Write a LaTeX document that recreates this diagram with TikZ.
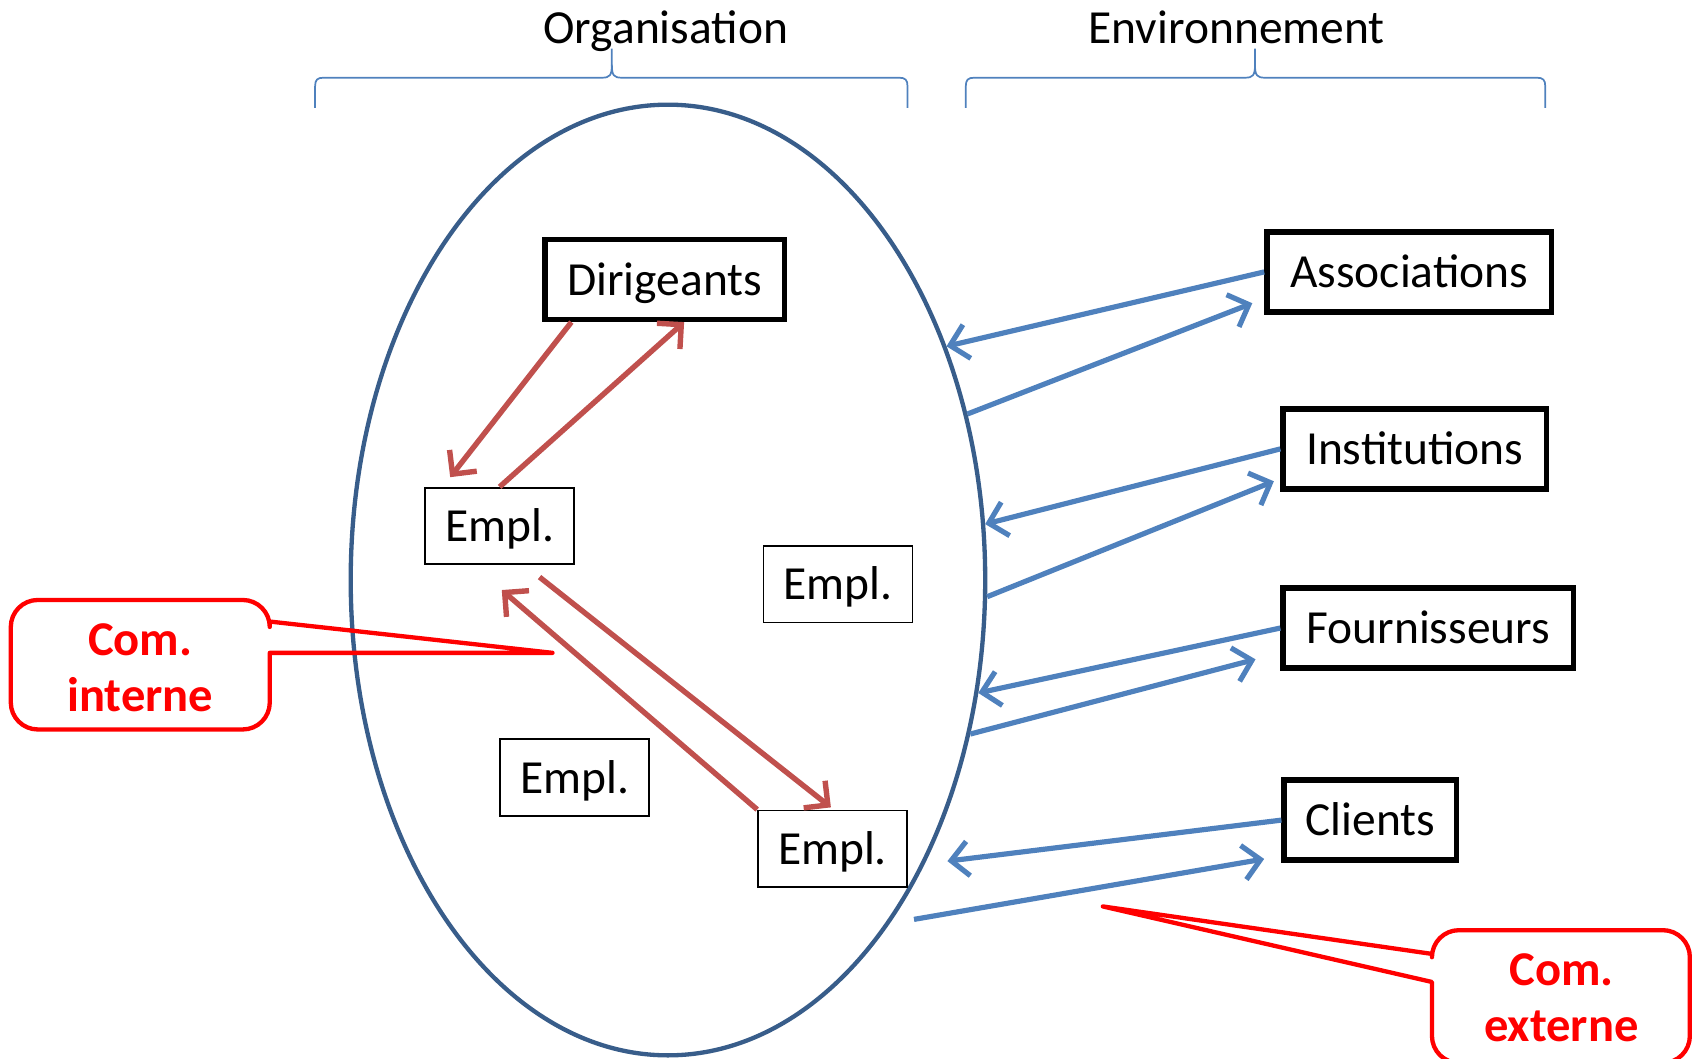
\documentclass[tikz,border=0pt]{standalone}
\usepackage{fontspec}
\setmainfont{Carlito}
\usetikzlibrary{arrows.meta,calc,shapes.geometric}
\definecolor{ellblue}{HTML}{385D8A}
\definecolor{lblue}{HTML}{4F81BD}
\definecolor{dred}{HTML}{C0504D}
\definecolor{pred}{HTML}{FF0000}
\begin{document}
\begin{tikzpicture}[x=1pt,y=1pt,
  every node/.style={font=\fontsize{44}{50}\selectfont},
  bigbox/.style={draw,line width=5pt,minimum height=74pt,inner sep=0pt,text depth=4pt,text height=33pt},
  emplbox/.style={draw,line width=1.6pt,minimum width=138pt,minimum height=71pt,inner sep=0pt,text depth=4pt,text height=33pt},
  redarr/.style={draw=dred,line width=5pt,-{Straight Barb[length=16pt,width=32pt]}},
  bluearr/.style={draw=lblue,line width=4.8pt,-{Straight Barb[length=16pt,width=32pt]}},
  bracestyle/.style={draw=lblue,line width=1.6pt},
  callout/.style={draw=pred,line width=4pt,line join=round},
  callouttext/.style={text=pred,font=\fontsize{45}{50}\selectfont\bfseries,anchor=base}
]
\useasboundingbox (0,0) rectangle (1568,-981);

% titles and braces
\node[anchor=base] (torg) at (617,-40) {Organisation};
\node[anchor=base] (tenv) at (1146,-40) {Environnement};
\draw[bracestyle] (292,-100) -- (292,-80) .. controls (292,-74) and (294,-72) .. (300,-72) -- (558,-72)
  .. controls (565,-72) and (567,-70) .. (567,-60) -- (567,-45);
\draw[bracestyle] (567,-60) .. controls (567,-70) and (569,-72) .. (576,-72) -- (833,-72)
  .. controls (839,-72) and (841,-74) .. (841,-80) -- (841,-100);
\draw[bracestyle] (895,-100) -- (895,-80) .. controls (895,-74) and (897,-72) .. (903,-72) -- (1154,-72)
  .. controls (1161,-72) and (1163,-70) .. (1163,-60) -- (1163,-45);
\draw[bracestyle] (1163,-60) .. controls (1163,-70) and (1165,-72) .. (1172,-72) -- (1424,-72)
  .. controls (1430,-72) and (1432,-74) .. (1432,-80) -- (1432,-100);

% organisation ellipse
\node[draw=ellblue,line width=4pt,ellipse,minimum width=588pt,minimum height=881pt,inner sep=0pt] (org) at (619,-537.5) {};

% inside nodes
\node[bigbox,minimum width=222pt] (dir) at (616,-259) {Dirigeants};
\node[emplbox] (e1) at (463,-487.5) {Empl.};
\node[emplbox] (e2) at (776.5,-541.5) {Empl.};
\node[emplbox] (e3) at (532.5,-720.5) {Empl.};
\node[emplbox] (e4) at (771.5,-786.5) {Empl.};

% environment nodes
\node[bigbox,minimum width=264pt] (assoc) at (1306,-252) {Associations};
\node[bigbox,minimum width=244pt] (inst) at (1311,-416) {Institutions};
\node[bigbox,minimum width=269pt] (four) at (1323.5,-582) {Fournisseurs};
\node[bigbox,minimum width=160pt] (cli) at (1270,-760) {Clients};

% internal communication arrows
\draw[redarr] ([xshift=27pt]dir.south west) -- ([shift={(24pt,9pt)}]e1.north west);
\draw[redarr] (e1.north) -- ([xshift=18pt]dir.south);
\draw[redarr] ([shift={(37pt,-11pt)}]e1.south) -- ([shift={(-1.5pt,2pt)}]e4.north);
\draw[redarr] (e4.north west) -- ([shift={(2pt,-23pt)}]e1.south);

% external communication arrows
\coordinate (c1) at (878,-798);
\coordinate (c2) at (847,-852);
\draw[bluearr] (assoc.west) -- (org.40);
\draw[bluearr] (org.29.6) -- ([shift={(-11pt,-29pt)}]assoc.west);
\draw[bluearr] (inst.west) -- (org.10.3);
\draw[bluearr] (org.-3.6) -- ([shift={(-6pt,-30pt)}]inst.west);
\draw[bluearr] (four.west) -- (org.-20.6);
\draw[bluearr] (org.-27.8) -- ([shift={(-23pt,-29pt)}]four.west);
\draw[bluearr] (cli.west) -- (c1);
\draw[bluearr] (c2) -- ([shift={(-16pt,-36pt)}]cli.west);

% callout: internal
\coordinate (tipi) at (512,-605);
\draw[callout] (250,-576) -- (tipi) -- (250,-605) -- (250,-651)
  arc[start angle=0,end angle=-90,radius=25pt] -- (35,-676)
  arc[start angle=270,end angle=180,radius=25pt] -- (10,-581)
  arc[start angle=180,end angle=90,radius=25pt] -- (225,-556)
  arc[start angle=90,end angle=0,radius=25pt] -- cycle;
\node[callouttext] (ci1) at (130,-607) {Com.};
\node[callouttext] (ci2) at (130,-659) {interne};

% callout: external
\coordinate (tipe) at (1022,-840);
\draw[callout] (1327,-887) arc[start angle=180,end angle=90,radius=25pt] -- (1541,-862)
  arc[start angle=90,end angle=0,radius=25pt] -- (1566,-960)
  arc[start angle=0,end angle=-90,radius=25pt] -- (1352,-985)
  arc[start angle=-90,end angle=-180,radius=25pt] -- (1327,-910) -- (tipe) -- (1327,-884) -- cycle;
\node[callouttext] (ce1) at (1447,-913) {Com.};
\node[callouttext] (ce2) at (1447,-965) {externe};
\end{tikzpicture}
\end{document}
